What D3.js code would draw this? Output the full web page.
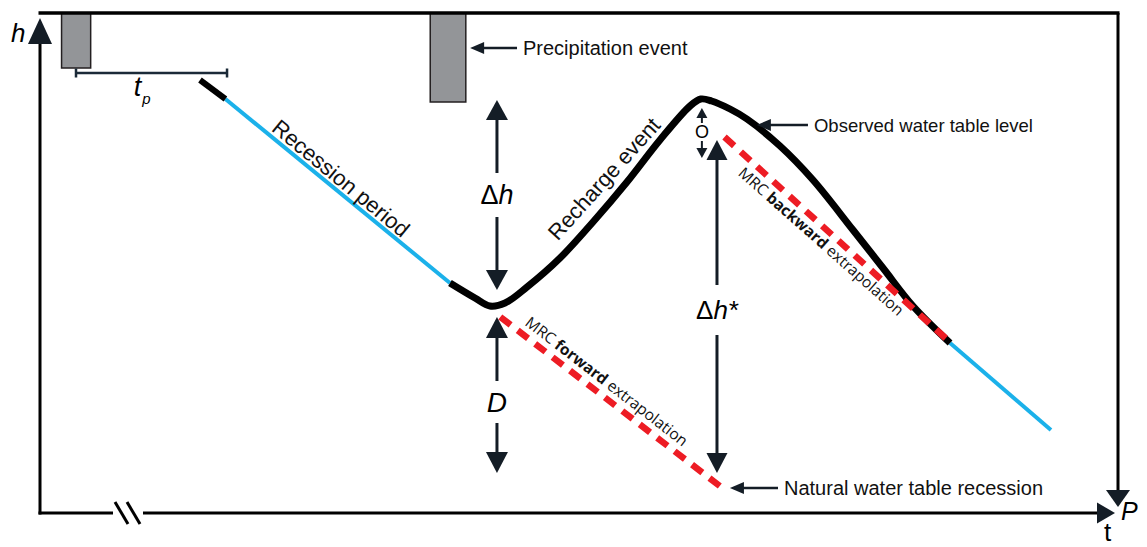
<!DOCTYPE html>
<html><head><meta charset="utf-8">
<script src="https://cdn.jsdelivr.net/npm/d3@7"></script>
<style>body{margin:0;background:#fff}svg{display:block}</style>
</head><body>
<svg id="c" width="1147" height="547"></svg>
<script>
// ---- data (time t: 0-100, head h: 0-100, precipitation depth P: 0-100 from top) ----
const precipStart = [2.0, 36.2];
const precipEnd   = [4.7, 39.5];
const precipDepth = [11.0, 17.8];

const stubT = [14.84, 17.2];
const stubH = [86.6, 82.8];
const recessionT = [17.2, 38.03];
const recessionH = [82.8, 46.0];
const observedT = [38.03, 40.35, 41.74, 43.14, 45.18, 48.24, 51.30, 54.45, 57.51, 60.30, 61.30, 62.30, 64.01, 65.58, 68.65, 71.71, 75.42, 78.20, 80.98, 84.42];
const observedH = [46.0, 43.0, 41.4, 42.0, 45.2, 51.0, 58.2, 66.2, 74.6, 81.4, 82.8, 82.4, 80.8, 78.8, 73.4, 66.6, 56.6, 49.0, 41.4, 34.0];
const tailT = [84.42, 93.78];
const tailH = [34.0, 16.6];
const backwardT = [63.5, 84.4];
const backwardH = [75.2, 34.2];
const forwardT = [42.7, 63.3];
const forwardH = [39.2, 5.0];

// annotations (t, h)
const tpBracket = {t0: 3.34, t1: 17.35, h: 88.0, labelT: 8.7, labelH: 83.4};
const deltaH   = {t: 42.39, top: 82.6, bottom: 44.6, label: 63.6};
const dArrow   = {t: 42.39, top: 39.2, bottom: 8.0, label: 22.2};
const deltaHs  = {t: 62.8, top: 74.6, bottom: 8.0, label: 40.6};
const oArrow   = {t: 61.4, top: 81.0, bottom: 71.0, label: 76.2};
const callouts = [
  {text: "Precipitation event", tipT: 39.9, tailT: 44.25, h: 93.0, size: 20},
  {text: "Observed water table level", tipT: 66.5, tailT: 71.24, h: 77.6, size: 18.5},
  {text: "Natural water table recession", tipT: 64.0, tailT: 68.46, h: 5.0, size: 20}
];
const slanted = [
  {parts: [["Recession period", "normal"]], t: 27.93, h: 67.0, angle: 39.5, font: "'Liberation Sans', Arial, sans-serif", size: 22},
  {parts: [["Recharge event", "normal"]], t: 52.3, h: 66.9, angle: -48, font: "'Liberation Sans', Arial, sans-serif", size: 22},
  {parts: [["MRC ", "normal"], ["forward", "bold"], [" extrapolation", "normal"]], t: 52.6, h: 26.4, angle: 37.7, font: "'Open Sans', sans-serif", size: 15.5},
  {parts: [["MRC ", "normal"], ["backward", "bold"], [" extrapolation", "normal"]], t: 72.5, h: 54.4, angle: 41.5, font: "'Open Sans', sans-serif", size: 15.5}
];

// ---- scales ----
const X = d3.scaleLinear().domain([0, 100]).range([40, 1118]);
const Y = d3.scaleLinear().domain([0, 100]).range([513, 13]);
const P = d3.scaleLinear().domain([0, 100]).range([13, 513]);

const svg = d3.select("#c");
const ARROW = "#141d26";
const SANS = "'Liberation Sans', Arial, sans-serif";

function head(x, y, dir, w, l, col) {
  let pts;
  if (dir === "up") pts = [[x, y], [x - w / 2, y + l], [x + w / 2, y + l]];
  else if (dir === "down") pts = [[x, y], [x - w / 2, y - l], [x + w / 2, y - l]];
  else if (dir === "left") pts = [[x, y], [x + l, y - w / 2], [x + l, y + w / 2]];
  else pts = [[x, y], [x - l, y - w / 2], [x - l, y + w / 2]];
  svg.append("path").attr("d", "M" + pts.join("L") + "Z").attr("fill", col || ARROW);
}
function seg(x1, y1, x2, y2, w, col) {
  svg.append("line").attr("x1", x1).attr("y1", y1).attr("x2", x2).attr("y2", y2)
    .attr("stroke", col || ARROW).attr("stroke-width", w);
}

// ---- precipitation bars ----
svg.selectAll("rect.precip").data(precipDepth).join("rect")
  .attr("class", "precip")
  .attr("x", (d, i) => X(precipStart[i]))
  .attr("y", P(0))
  .attr("width", (d, i) => X(precipEnd[i]) - X(precipStart[i]))
  .attr("height", d => P(d) - P(0))
  .attr("fill", "#939598").attr("stroke", "#231f20").attr("stroke-width", 1.5);

// ---- frame / axes ----
seg(X(0) - 1.5, Y(100), X(100) + 1.5, Y(100), 3.5, "#000");
seg(X(100), Y(100), X(100), Y(0) - 20, 3, "#000");
head(X(100), Y(0) - 6, "down", 24, 17);
seg(X(0), Y(0) + 1.5, X(0), 40, 3, "#000");
head(X(0), 18, "up", 24, 26);
seg(X(0) - 1.5, Y(0), 113, Y(0), 3, "#000");
seg(143, Y(0), X(100) - 18, Y(0), 3, "#000");
head(X(100) - 3, Y(0), "right", 21, 18);
seg(115, Y(0) - 11, 128, Y(0) + 11, 3, "#000");
seg(127, Y(0) - 11, 140, Y(0) + 11, 3, "#000");

svg.append("text").attr("x", 11).attr("y", 42).attr("font-family", SANS).attr("font-size", 26)
  .attr("font-style", "italic").text("h");
svg.append("text").attr("x", 1104).attr("y", 541).attr("font-family", SANS).attr("font-size", 26).text("t");
svg.append("text").attr("x", 1121).attr("y", 520).attr("font-family", SANS).attr("font-size", 25)
  .attr("font-style", "italic").text("P");

// ---- t_p bracket ----
seg(X(tpBracket.t0), Y(tpBracket.h), X(tpBracket.t1), Y(tpBracket.h), 2.5, "#1b2a38");
seg(X(tpBracket.t0), Y(tpBracket.h) - 4.5, X(tpBracket.t0), Y(tpBracket.h) + 4.5, 2.5, "#1b2a38");
seg(X(tpBracket.t1), Y(tpBracket.h) - 4.5, X(tpBracket.t1), Y(tpBracket.h) + 4.5, 2.5, "#1b2a38");
const tp = svg.append("text").attr("x", X(tpBracket.labelT)).attr("y", Y(tpBracket.labelH))
  .attr("font-family", SANS).attr("font-size", 27).attr("font-style", "italic");
tp.append("tspan").text("t");
tp.append("tspan").attr("font-size", 15).attr("dy", 8).attr("dx", 1).text("p");

// ---- water table lines ----
const line = d3.line().x(d => X(d[0])).y(d => Y(d[1]));
const smooth = d3.line().x(d => X(d[0])).y(d => Y(d[1])).curve(d3.curveCatmullRom.alpha(0.5));
const zip = (a, b) => a.map((v, i) => [v, b[i]]);

svg.append("path").attr("d", line(zip(recessionT, recessionH))).attr("fill", "none")
  .attr("stroke", "#1bb1ea").attr("stroke-width", 4);
svg.append("path").attr("d", line(zip(tailT, tailH))).attr("fill", "none")
  .attr("stroke", "#1bb1ea").attr("stroke-width", 4);
svg.append("path").attr("d", line(zip(stubT, stubH))).attr("fill", "none")
  .attr("stroke", "#000").attr("stroke-width", 6);
svg.append("path").attr("d", smooth(zip(observedT, observedH))).attr("fill", "none")
  .attr("stroke", "#000").attr("stroke-width", 7).attr("stroke-linejoin", "round");
svg.append("path").attr("d", line(zip(backwardT, backwardH))).attr("fill", "none")
  .attr("stroke", "#ed1c24").attr("stroke-width", 6.5).attr("stroke-dasharray", "13,9");
svg.append("path").attr("d", line(zip(forwardT, forwardH))).attr("fill", "none")
  .attr("stroke", "#ed1c24").attr("stroke-width", 6.5).attr("stroke-dasharray", "13,9");

// ---- vertical measurement arrows ----
function vArrow(a, w, l, lw, gap) {
  const x = X(a.t), yt = Y(a.top), yb = Y(a.bottom), yl = Y(a.label);
  head(x, yt, "up", w, l);
  head(x, yb, "down", w, l);
  seg(x, yt + l - 1, x, yl - gap, lw);
  seg(x, yl + gap, x, yb - l + 1, lw);
}
vArrow(deltaH, 22, 20, 3, 22);
vArrow(dArrow, 22, 21, 3, 21);
vArrow(deltaHs, 21, 20, 3, 25);
vArrow(oArrow, 11, 10, 2, 9);

function mathLabel(a, base, ital, size) {
  const t = svg.append("text").attr("x", X(a.t)).attr("y", Y(a.label)).attr("text-anchor", "middle")
    .attr("dominant-baseline", "central").attr("font-family", SANS).attr("font-size", size);
  if (base) t.append("tspan").text(base);
  t.append("tspan").attr("font-style", "italic").text(ital);
  return t;
}
mathLabel(deltaH, "Δ", "h", 27);
mathLabel(dArrow, "", "D", 28);
mathLabel(deltaHs, "Δ", "h*", 26);
mathLabel(oArrow, "", "O", 18).selectAll("tspan").attr("font-style", "normal");

// ---- callouts ----
callouts.forEach(c => {
  head(X(c.tipT), Y(c.h), "left", 12, 14);
  seg(X(c.tipT) + 12, Y(c.h), X(c.tailT), Y(c.h), 2.5);
  svg.append("text").attr("x", X(c.tailT) + 6).attr("y", Y(c.h)).attr("dominant-baseline", "central")
    .attr("font-family", SANS).attr("font-size", c.size).attr("fill", "#111").text(c.text);
});

// ---- slanted labels ----
slanted.forEach(s => {
  const t = svg.append("text")
    .attr("transform", `translate(${X(s.t)},${Y(s.h)}) rotate(${s.angle})`)
    .attr("text-anchor", "middle").attr("dominant-baseline", "central")
    .attr("font-family", s.font).attr("font-size", s.size).attr("fill", "#111");
  s.parts.forEach(p => t.append("tspan").attr("font-weight", p[1]).text(p[0]));
});
</script>
</body></html>
